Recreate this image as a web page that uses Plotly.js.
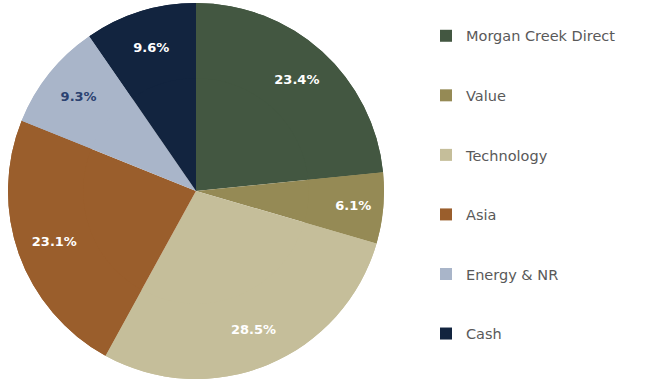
<!DOCTYPE html>
<html>
<head>
<meta charset="utf-8">
<script src="https://cdn.plot.ly/plotly-3.0.1.min.js"></script>
<style>html,body{margin:0;padding:0;background:#fff;}#chart{width:646px;height:386px;}</style>
</head>
<body>
<div id="chart"></div>
<script>
const categories = ["Morgan Creek Direct", "Value", "Technology", "Asia", "Energy & NR", "Cash"];
const shares = [23.4, 6.1, 28.5, 23.1, 9.3, 9.6];
const sliceColors = ["#435741", "#958A55", "#C5BE9A", "#9A5E2C", "#A9B5C9", "#12243F"];
const labelColors = ["#ffffff", "#ffffff", "#ffffff", "#ffffff", "#2B4270", "#ffffff"];

const W = 646, H = 386;
const cx = 196, cy = 191, r = 188;
const pieDomain = { x: [(cx - r) / W, (cx + r) / W], y: [1 - (cy + r) / H, 1 - (cy - r) / H] };
const legendLabels = categories.map(c => "<br>" + c + "<br> ");

// full pie (fills the centre)
const basePie = {
  type: "pie",
  labels: legendLabels,
  values: shares,
  sort: false,
  direction: "clockwise",
  rotation: 0,
  marker: { colors: sliceColors, line: { width: 0 } },
  textinfo: "none",
  showlegend: false,
  hoverinfo: "skip",
  domain: pieDomain
};

// same slices as a ring on top: carries the percentage labels further out
const labelRing = {
  type: "pie",
  labels: legendLabels,
  values: shares,
  sort: false,
  direction: "clockwise",
  rotation: 0,
  hole: 0.6,
  marker: { colors: sliceColors, line: { width: 0 } },
  texttemplate: "%{value:.1f}%",
  textposition: "inside",
  insidetextorientation: "horizontal",
  insidetextfont: { color: labelColors, size: 13, family: "DejaVu Sans, sans-serif", weight: "bold" },
  hoverinfo: "label+percent",
  domain: pieDomain
};

const layout = {
  width: W, height: H,
  margin: { l: 0, r: 0, t: 0, b: 0 },
  paper_bgcolor: "#ffffff",
  showlegend: true,
  legend: {
    x: 426 / W, xanchor: "left",
    y: 1 - 1 / H, yanchor: "top",
    font: { family: "DejaVu Sans, sans-serif", size: 14.5, color: "#595959" },
    bgcolor: "rgba(0,0,0,0)",
    traceorder: "normal"
  },
  font: { family: "DejaVu Sans, sans-serif" }
};

Plotly.newPlot("chart", [basePie, labelRing], layout, { displayModeBar: false, staticPlot: true });
</script>
</body>
</html>
